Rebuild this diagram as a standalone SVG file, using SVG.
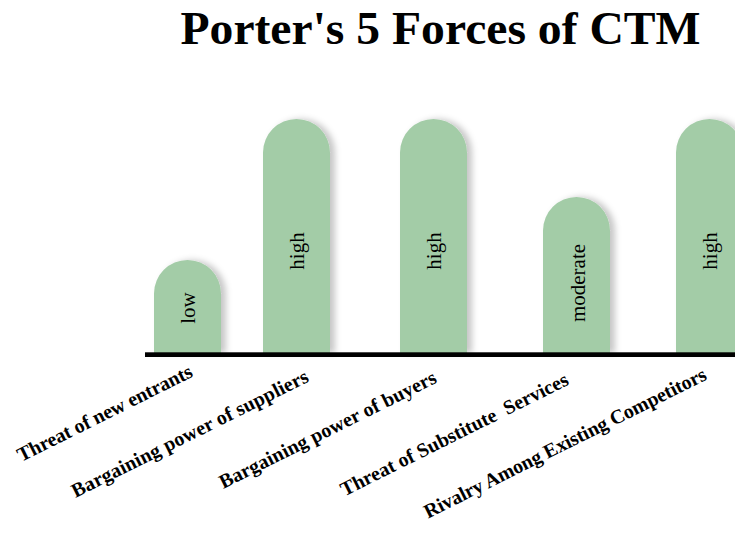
<svg xmlns="http://www.w3.org/2000/svg" width="735" height="533" viewBox="0 0 735 533">
<defs>
<filter id="sh" x="-20%" y="-10%" width="150%" height="120%">
<feDropShadow dx="5" dy="0" stdDeviation="3" flood-color="#000" flood-opacity="0.22"/>
</filter>
</defs>
<style>
.bar{fill:#a3cca7;filter:url(#sh)}
.val{font-family:"Liberation Serif",serif;font-size:21px;fill:#000;text-anchor:middle}
.cat{font-family:"Liberation Serif",serif;font-size:20px;font-weight:bold;fill:#000;text-anchor:end}
.title{font-family:"Liberation Serif",serif;font-size:46px;font-weight:bold;fill:#000;text-anchor:middle}
</style>
<rect width="735" height="533" fill="#fff"/>
<text class="title" x="440.5" y="44" textLength="520" lengthAdjust="spacingAndGlyphs">Porter's 5 Forces of CTM</text>

<g id="bar1">
<path class="bar" d="M154,353 V293.5 A33.5,33.5 0 0 1 221,293.5 V353 Z"/>
<text class="val" transform="translate(195,308) rotate(-90)">low</text>
</g>
<g id="bar2">
<path class="bar" d="M263,353 V152.5 A33.5,33.5 0 0 1 330,152.5 V353 Z"/>
<text class="val" transform="translate(304,251) rotate(-90)">high</text>
</g>
<g id="bar3">
<path class="bar" d="M400,353 V152.5 A33.5,33.5 0 0 1 467,152.5 V353 Z"/>
<text class="val" transform="translate(441,251) rotate(-90)">high</text>
</g>
<g id="bar4">
<path class="bar" d="M543,353 V230.5 A33.5,33.5 0 0 1 610,230.5 V353 Z"/>
<text class="val" transform="translate(584.5,283) rotate(-90)">moderate</text>
</g>
<g id="bar5">
<path class="bar" d="M676,353 V152.5 A33.5,33.5 0 0 1 743,152.5 V353 Z"/>
<text class="val" transform="translate(717,251) rotate(-90)">high</text>
</g>

<g id="axis">
<rect x="145" y="352.3" width="590" height="4.7" fill="#000"/>
</g>

<g id="labels">
<text class="cat" transform="translate(194,376) rotate(-26.5)" textLength="193" lengthAdjust="spacing">Threat of new entrants</text>
<text class="cat" transform="translate(310,381) rotate(-26.5)" textLength="262" lengthAdjust="spacing">Bargaining power of suppliers</text>
<text class="cat" transform="translate(438,382) rotate(-26.5)" textLength="240" lengthAdjust="spacing">Bargaining power of buyers</text>
<text class="cat" xml:space="preserve" transform="translate(570,384) rotate(-26.5)" textLength="252" lengthAdjust="spacing">Threat of Substitute  Services</text>
<text class="cat" transform="translate(708,379) rotate(-26.5)" textLength="313" lengthAdjust="spacing">Rivalry Among Existing Competitors</text>
</g>
</svg>
